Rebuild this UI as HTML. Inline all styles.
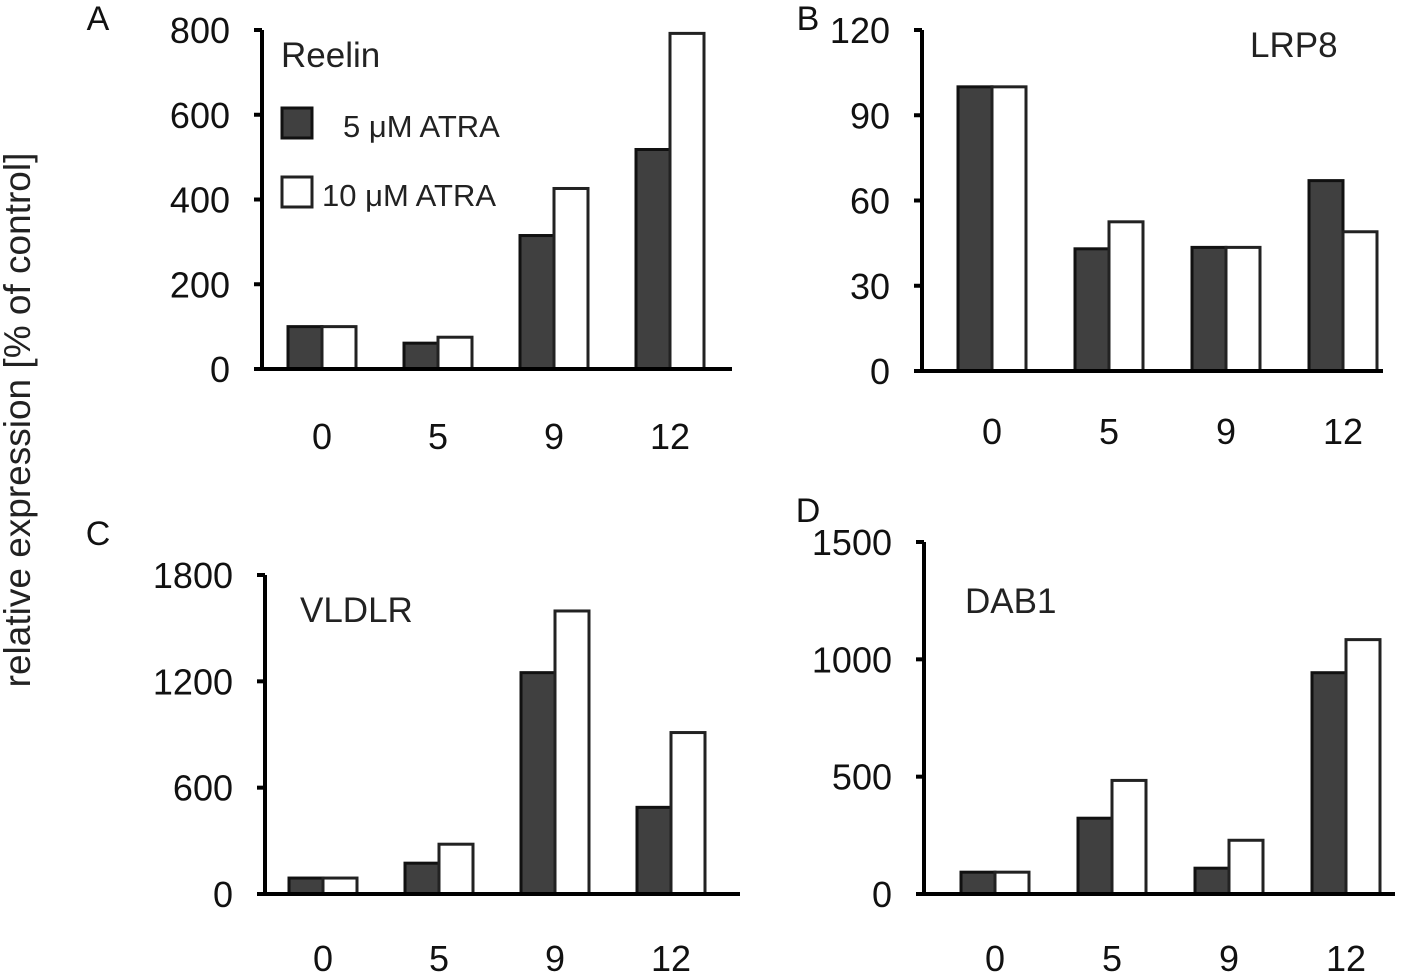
<!DOCTYPE html>
<html><head><meta charset="utf-8"><style>
html,body{margin:0;padding:0;background:#fff}
svg{display:block;font-family:"Liberation Sans",Arial,sans-serif}
</style></head><body>
<svg id="fig" width="1417" height="973" viewBox="0 0 1417 973">
<text x="30" y="420" font-size="37" fill="#222" text-anchor="middle" transform="rotate(-90 30 420)">relative expression [% of control]</text>
</svg>
<script>
const categories = ["0","5","9","12"];
const reelin5 = [100, 61, 315, 518];
const reelin10 = [100, 75, 426, 792];
const lrp5 = [100, 43, 43.5, 67];
const lrp10 = [100, 52.5, 43.5, 49];
const vldlr5 = [90, 174, 1249, 489];
const vldlr10 = [90, 281, 1597, 911];
const dab5 = [93, 323, 110, 943];
const dab10 = [93, 484, 229, 1084];
const ticksA = [0,200,400,600,800];
const ticksB = [0,30,60,90,120];
const ticksC = [0,600,1200,1800];
const ticksD = [0,500,1000,1500];

const NS = "http://www.w3.org/2000/svg";
const svg = document.getElementById("fig");
function mk(tag, attrs, parent){const e=document.createElementNS(NS,tag);for(const k in attrs)e.setAttribute(k,attrs[k]);(parent||svg).appendChild(e);return e;}

const panels = [
 {id:"a", letter:"A", lx:98, ly:30, ax:262, top:30, base:369, max:800, ticks:ticksA, s1:reelin5, s2:reelin10, cx0:322, dx:116, end:732, labY:449, title:"Reelin", tx:281, ty:67},
 {id:"b", letter:"B", lx:808, ly:30, ax:922, top:30, base:371, max:120, ticks:ticksB, s1:lrp5, s2:lrp10, cx0:992, dx:117, end:1383, labY:444, title:"LRP8", tx:1250, ty:57},
 {id:"c", letter:"C", lx:98, ly:545, ax:265, top:575, base:894, max:1800, ticks:ticksC, s1:vldlr5, s2:vldlr10, cx0:323, dx:116, end:740, labY:971, title:"VLDLR", tx:300, ty:622},
 {id:"d", letter:"D", lx:808, ly:522, ax:924, top:542, base:894, max:1500, ticks:ticksD, s1:dab5, s2:dab10, cx0:995, dx:117, end:1395, labY:971, title:"DAB1", tx:965, ty:613}
];

panels.forEach(p=>{
  const g = mk("g",{});
  
  
  const y = v => p.base - v/p.max*(p.base-p.top);
  const x = i => p.cx0 + i*p.dx;
  const L = mk("text",{x:p.lx,y:p.ly,"font-size":34,fill:"#111","text-anchor":"middle"},g); L.textContent=p.letter;
  
  
  const T = mk("text",{x:p.tx,y:p.ty,"font-size":35,fill:"#222"},g); T.textContent=p.title;
  
  
  categories.forEach((c,i)=>{
    const w=34;
    const r1 = mk("rect",{x:x(i)-w,y:y(p.s1[i]),width:w,height:p.base-y(p.s1[i]),fill:"#404040",stroke:"#111","stroke-width":3},g);
    
    
    const r2 = mk("rect",{x:x(i),y:y(p.s2[i]),width:w,height:p.base-y(p.s2[i]),fill:"#fff",stroke:"#222","stroke-width":3},g);
    
    
    const t = mk("text",{x:x(i),y:p.labY,"font-size":36,fill:"#111","text-anchor":"middle"},g); t.textContent=c;
    
    
  });
  const ya = mk("line",{x1:p.ax,y1:p.top,x2:p.ax,y2:p.base,stroke:"#000","stroke-width":4},g);
  
  
  const xa = mk("line",{x1:p.ax-6,y1:p.base,x2:p.end,y2:p.base,stroke:"#000","stroke-width":4},g);
  
  
  p.ticks.forEach(v=>{
    const tk = mk("line",{x1:p.ax-8,y1:y(v),x2:p.ax,y2:y(v),stroke:"#000","stroke-width":4},g);
    
    
    const tl = mk("text",{x:p.ax-32,y:y(v)+13,"font-size":36,fill:"#111","text-anchor":"end"},g); tl.textContent=v;
    
    
  });
});
const lg = mk("g",{});


const s1 = mk("rect",{x:282,y:108,width:30,height:30,fill:"#404040",stroke:"#111","stroke-width":3},lg);


const t1 = mk("text",{x:343,y:137,"font-size":31,fill:"#222"},lg); t1.textContent="5 μM ATRA";


const s2 = mk("rect",{x:282,y:177,width:30,height:30,fill:"#fff",stroke:"#222","stroke-width":3},lg);


const t2 = mk("text",{x:322,y:206,"font-size":31,fill:"#222"},lg); t2.textContent="10 μM ATRA";


</script>
</body></html>
